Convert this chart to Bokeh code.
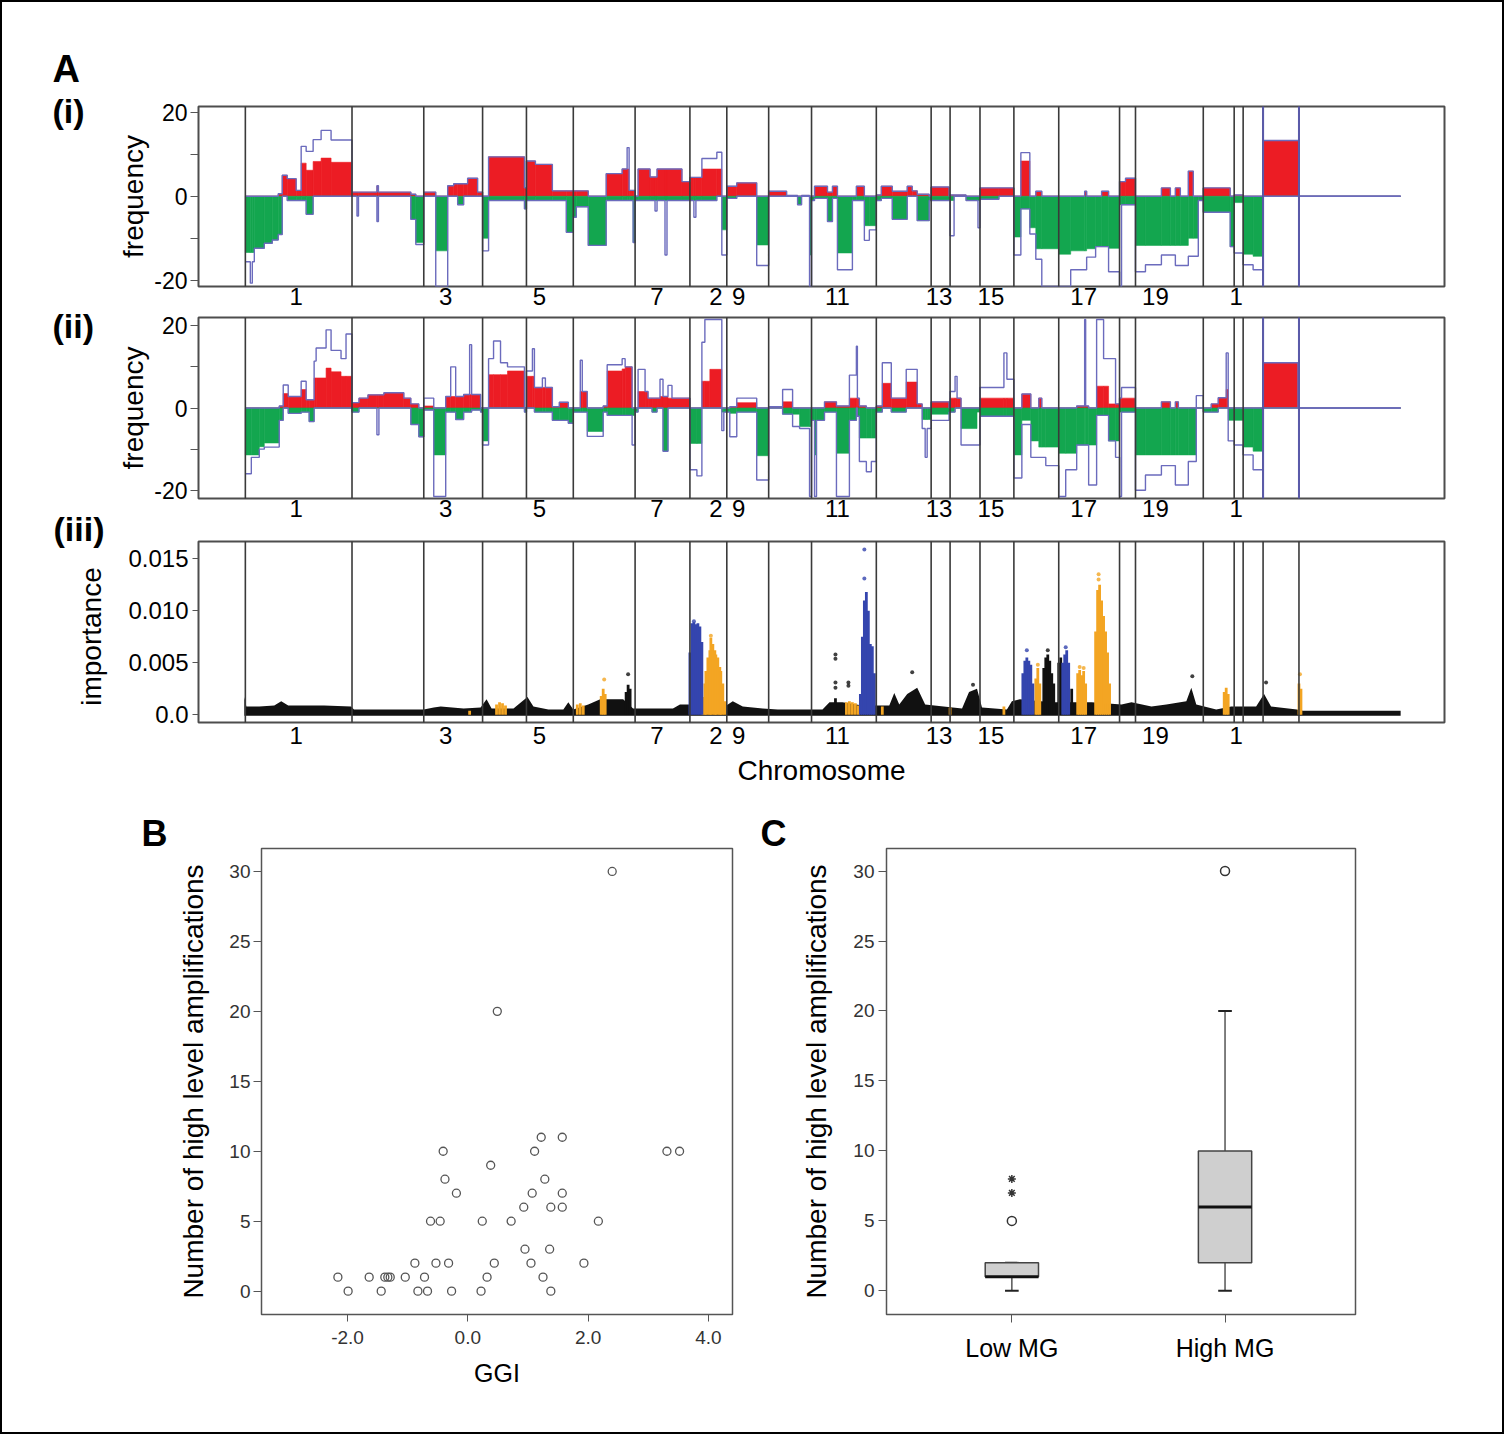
from math import pi
from bokeh.plotting import figure
from bokeh.layouts import column, row
from bokeh.models import FixedTicker, CustomJSTickFormatter, Range1d, Spacer
from bokeh.core.properties import value
from bokeh.embed import file_html
from bokeh.resources import INLINE

FONT = "Liberation Sans"

# ---------------------------------------------------------------- data
# genome position units (chromosome borders and label positions)
chrom_bounds = [47, 154, 226, 285, 329, 376, 438, 493, 530, 572, 615, 680, 735, 754,
                784, 818, 863, 924, 940, 1008, 1039, 1048, 1068, 1104]
chrom_x_bounds = [1068, 1104]
chrom_tick_pos = [98, 248, 342, 460, 519, 542, 641, 743, 795, 888, 960, 1041]
chrom_tick_lab = ["1", "3", "5", "7", "2", "9", "11", "13", "15", "17", "19", "1"]
genome_start = 47

# panel (i): segment ends, gain / loss frequency and outer envelope
i_end = [52, 54, 56, 66, 74, 80, 84, 89, 98, 103,
         108, 115, 123, 133, 154, 159, 160.5, 179, 180.5, 213,
         218, 226, 238, 250, 256, 260, 266, 270, 280, 285,
         291, 327, 329, 338, 355, 369, 376, 379, 391, 409,
         425, 430, 432, 436, 438, 441, 453, 458, 460, 468,
         470, 485, 493, 497, 499, 505, 520, 525, 530, 540,
         560, 572, 590, 601, 605, 613, 615, 618, 631, 636,
         641, 656, 660, 668, 673, 680, 685, 696, 711, 716,
         721, 733, 735, 753, 754, 758, 770, 782, 784, 803,
         818, 825, 834, 840, 846, 863, 875, 889, 891, 900,
         906, 913, 924, 926, 930, 940, 950, 966, 975, 980,
         985, 993, 998, 1003, 1008, 1035, 1039, 1048, 1058, 1068,
         1104, 1206]
i_gain = [0, 0, 0, 0, 0, 0, 0.6, 5, 4.2, 1.4,
          7.9, 6.2, 8.3, 9.1, 8.1, 1, 1, 1, 2.5, 1,
          0.5, 0, 1, 0, 2.5, 3, 3, 3, 4.3, 1,
          0, 9.4, 2, 8.4, 7.6, 1.3, 1.3, 1.3, 1.3, 0,
          5.4, 6.5, 6.5, 1.4, 1.4, 0, 6.5, 4.6, 4.6, 6.5,
          6.5, 6.5, 3.5, 4.5, 4.5, 4.5, 6.5, 6.5, 0, 2.4,
          3.2, 0, 1.2, 0.2, 0, 0.2, 0, 0, 2.4, 1,
          2.4, 0, 0, 2.4, 0, 0, 0.3, 2.4, 1.2, 2.4,
          1.3, 0.5, 0, 2.2, 0, 0.3, 0.3, 0, 0, 2,
          2, 0, 8.4, 0, 1.2, 0, 0, 0, 1.2, 0,
          0, 1.2, 0, 3.5, 3.5, 4.3, 0, 0, 2, 0,
          2, 0, 6, 0, 0, 2, 0, 0.3, 0, 0,
          13.3, 0]
i_loss = [-13.4, -13.4, -13.4, -12.4, -11.2, -10.4, -9.1, 0, -1, -1,
          -1, -4.3, 0, 0, 0, 0, 0, 0, 0, 0,
          -5.5, -11, 0, -13, 0, 0, -2, 0, 0, 0,
          -10, -1, -3, -1, -1, -1, -8.6, -5, -2.5, -11.7,
          -1, -1, -1, -1, -11, -1, -1, -1, -1, -1,
          -1, -1, -1, -1, -1, -1, -1, 0, -8, -0.5,
          0, -11.6, 0, 0, -2, 0, -14, -1, -0.5, -6,
          -0.5, -13.5, -1, -1, -7, -7, -1, -0.5, -5.5, 0,
          0, -5.8, -1, -1, -1, -1, 0, -1, -1, -0.7,
          0, -9.7, -3, -7.5, -12.5, -12.5, -13.8, -13, -13, -12.5,
          -12, -12, -12.4, -2, -2, -2, -11.7, -11.7, -11.7, -11.7,
          -11.7, -11.7, -10, -10, -1, -3.8, -12, -1.5, -13.8, -14.3,
          0, 0]
i_hi = [0, 0, 0, 0, 0, 0, 0.6, 5, 4.2, 1.4,
        11.9, 10.7, 13.5, 15.7, 13.4, 1, 1, 1, 2.5, 1,
        0.5, 0, 1, 0, 2.5, 3, 3, 3, 4.3, 1,
        0, 9.4, 2, 8.4, 7.6, 1.3, 1.3, 1.3, 1.3, 0,
        5.4, 6.5, 11.6, 1.4, 1.4, 0, 6.5, 4.6, 4.6, 6.5,
        6.5, 6.5, 3.5, 4.5, 4.5, 4.5, 9, 10.5, 0, 2.4,
        3.2, 0, 1.2, 0.2, 0, 0.2, 0, 0, 2.4, 1,
        2.4, 0, 0, 2.4, 0, 0, 0.3, 2.4, 1.2, 2.4,
        1.3, 0.5, 0, 2.2, 0, 0.3, 0.3, 0, 0, 2,
        2, 0, 10.4, 0, 1.2, 0, 0, 0, 1.2, 0,
        0, 1.2, 0, 3.5, 3.5, 4.3, 0, 0, 2, 0,
        2, 0, 6, 0, 0, 2, 0, 0.3, 0, 0,
        13.3, 0]
i_lo = [-15.6, -20.7, -15.6, -12.4, -11.2, -10.4, -9.1, 0, -1, -1,
        -1, -4.3, 0, 0, 0, 0, -4.7, 0, -6, 0,
        -5.5, -11.5, 0, -21.5, 0, 0, -2, 0, 0, 0,
        -13, -1, -3, -1, -1, -1, -8.6, -5, -2.5, -11.7,
        -1, -1, -1, -1, -11, -1, -1, -1, -3.5, -1,
        -14, -1, -1, -1, -5, -1, -1, 0, -14, -0.5,
        0, -16.5, 0, 0, -2, 0, -21.5, -1, -0.5, -6,
        -0.5, -17.5, -1, -1, -10.5, -8, -1, -0.5, -5.5, 0,
        0, -5.8, -1, -1, -1, -9.4, 0, -1, -7.5, -0.7,
        0, -14, -3, -9, -15, -21.5, -21.5, -17.5, -17.5, -14.5,
        -12, -12, -18, -21.5, -2, -2, -18, -16.3, -14, -14,
        -16.5, -16.5, -14.3, -14.3, -1, -3.8, -12, -13.5, -16.3, -17.5,
        0, 0]

# panel (ii)
ii_end = [53, 61, 66, 81, 85, 90, 103, 108, 111, 116,
          118, 128, 133, 143, 148, 154, 161, 170, 179, 181,
          186, 206, 213, 221, 226, 236, 248, 253, 258, 266,
          272, 274, 283, 285, 291, 296, 303, 310, 327, 329,
          335, 337, 345, 348, 355, 362, 371, 376, 383, 385,
          390, 406, 410, 425, 428, 435, 438, 441, 448, 451,
          455, 460, 463, 466, 471, 475, 493, 500, 505, 508,
          513, 525, 527, 530, 533, 540, 560, 572, 586, 596,
          603, 613, 615, 618, 620, 628, 640, 653, 660, 661,
          663, 670, 675, 680, 686, 695, 710, 721, 726, 729,
          731, 735, 753, 754, 759, 761, 765, 781, 784, 808,
          811, 818, 826, 835, 843, 846, 850, 863, 870, 881,
          889, 890, 893, 901, 908, 913, 920, 924, 926, 940,
          950, 966, 975, 980, 983, 993, 1001, 1008, 1016, 1023,
          1031, 1033, 1039, 1048, 1058, 1068, 1103, 1104, 1206]
ii_gain = [0, 0, 0, 0, 0.5, 3.5, 2.8, 4.5, 2, 2,
           7.3, 7.3, 9.7, 8.8, 7.7, 7.7, 1.3, 2.4, 3.2, 3.2,
           3.2, 3.7, 2.4, 1, 0, 0.5, 0, 2.8, 2.8, 2.8,
           3.3, 3.3, 3.3, 0, 0, 8.1, 8.1, 8.1, 9, 0,
           7.7, 7.7, 5, 5, 5, 0.3, 1.4, 0, 0, 4,
           4, 0, 0.5, 9, 9.5, 10, 0, 0, 4, 4,
           2.4, 2.4, 2.4, 2.8, 2.8, 2.4, 2.4, 0, 0, 6.5,
           6.5, 9.4, 0, 0, 0, 0.3, 1.3, 0, 0.3, 1.5,
           0, 0, 0, 0, 0, 0, 1.5, 0.5, 2.4, 2.4,
           2.4, 0.5, 0, 0, 0.5, 6, 2.4, 6.3, 1, 0,
           0, 0, 1.5, 0, 2.4, 2.4, 2.4, 0, 0, 2.4,
           2.4, 2.4, 0, 3.4, 0, 2.4, 0, 0, 0, 0,
           0.5, 0.5, 0.5, 0, 5.3, 5.3, 1, 1, 2.4, 2.4,
           0, 0, 1.5, 0, 1.5, 0, 0, 0, 0, 1,
           2.5, 4.5, 0, 0, 0, 0, 11, 0, 0]
ii_loss = [-11.4, -11.4, -9.4, -8.5, -3, 0, -1.3, -1, -1, -3.3,
           0, 0, 0, 0, 0, 0, -1, 0, 0, 0,
           0, 0, 0, -4, -7, -0.5, -11.4, -1, -1, -2.8,
           -1, -1, -0.5, -1, -8, 0, 0, 0, 0, -1,
           0, 0, -1, -1, -1, -3, -3, -3.7, -1, -1,
           -1, -5.7, -1, -1.8, -1.8, -1.8, -1.8, -1, 0, 0,
           0, -1, 0, 0, -10.5, 0, 0, -8.6, -8.6, 0,
           0, 0, -1, -1, -1, -1.3, -1, -11.6, 0, -1.5,
           -1.5, -4.5, -4.5, -3, -11.4, -3, -1, -11, -3, 0,
           -2, -7.3, -7.3, -7.3, -1, 0, -1, 0, 0, -2.8,
           -2.8, -2.8, -1.5, -1, -1, 0, 0, -5, -1, -2,
           -2, -2, -11.4, -3, -8, -9.5, -9.5, -9.5, -11, -11,
           -9, -9, -9, -9, -1.8, -1.8, -8, -8, -1, -1,
           -11.4, -11.4, -11.4, -11.4, -11.4, -11.4, -11.4, 0, -1, -1,
           0, 0, -3, -3, -9.5, -10.5, 0, 0, 0]
ii_hi = [0, 0, 0, 0, 0.5, 5.6, 2.8, 6.5, 2, 2,
         11.4, 14.6, 19, 14, 12, 18, 1.3, 2.4, 3.2, 3.2,
         3.2, 3.7, 2.4, 1, 0, 2.4, 0, 2.8, 10, 2.8,
         3.3, 15.4, 3.3, 0, 0, 12, 16.3, 11, 10, 0,
         9, 14.4, 5, 7.3, 5, 0.3, 1.4, 0, 0, 11.6,
         4, 0, 0.5, 10.5, 12, 10, 0, 0, 9.4, 4,
         2.4, 2.4, 2.4, 7, 2.8, 5.5, 2.4, 0, 0, 16,
         21.5, 21.5, 0, 0, 0, 0.3, 2.4, 0, 0.3, 4.5,
         0, 0, 0, 0, 0, 0, 1.5, 0.5, 8, 15,
         2.4, 0.5, 0, 0, 0.5, 11, 2.4, 9.4, 1, 0,
         0, 0, 1.5, 0, 4, 7.7, 2.4, 0, 0, 5,
         13.4, 7, 0, 3.4, 0, 2.4, 0, 0, 0, 0,
         0.5, 21.5, 0.5, 0, 21.5, 12, 12, 1, 2.4, 5,
         0, 0, 1.5, 0, 1.5, 0, 0, 3, 0, 1,
         2.5, 13.4, 0, 0, 0, 0, 11, 0, 0]
ii_lo = [-16, -12, -10, -9.5, -3, 0, -1.3, -1, -1, -3.3,
         0, 0, 0, 0, 0, 0, -1, 0, 0, -6.5,
         0, 0, 0, -4, -7, -0.5, -21.5, -1, -1, -2.8,
         -1, -1, -0.5, -1, -9, 0, 0, 0, 0, -1,
         0, 0, -1, -1, -1, -3, -3, -3.7, -1, -1,
         -1, -6.9, -1, -1.8, -1.8, -1.8, -9, -1, 0, 0,
         0, -1, 0, 0, -10.5, 0, 0, -15, -16.5, 0,
         0, 0, -5.5, -1, -1, -7, -1, -17.5, 0, -1.5,
         -4.5, -5, -21.5, -3, -21.5, -3, -1, -21.5, -3, 0,
         -2, -13, -15.5, -13, -1, 0, -1, 0, 0, -5,
         -12, -5, -3, -1, -1, 0, 0, -9, -9, -2,
         -2, -2, -17, -4, -12, -12, -12, -14, -21.5, -15,
         -9, -9, -9, -18.7, -1.8, -1.8, -8, -12, -21.5, -1,
         -20, -16.3, -14, -14, -18.7, -18.7, -13, 0, -1, -1,
         0, 0, -8, -9, -11.4, -15, 0, 0, 0]

# panel (iii): importance
band_pos = [46, 48, 61, 76, 83, 90, 126, 153, 156, 226, 236, 243, 266, 283, 289, 294, 316,
            330, 336, 351, 366, 371, 376, 391, 403, 426, 436, 476, 483, 492, 528, 536, 546,
            566, 581, 626, 633, 646, 666, 693, 698, 703, 711, 721, 729, 766, 773, 781, 786,
            811, 816, 824, 856, 896, 926, 936, 956, 971, 991, 996, 1001, 1021, 1036, 1061,
            1069, 1076, 1102, 1108, 1206]
band_top = [0.0017, 0.0008, 0.0008, 0.0009, 0.0013, 0.0009, 0.0009, 0.0008, 0.0005, 0.0005,
            0.0007, 0.0008, 0.0006, 0.0007, 0.0015, 0.0006, 0.0006, 0.0017, 0.0008, 0.0005,
            0.0005, 0.0012, 0.0005, 0.0010, 0.0015, 0.0015, 0.0006, 0.0006, 0.0010, 0.0010,
            0.0008, 0.0013, 0.0008, 0.0006, 0.0005, 0.0005, 0.0012, 0.0012, 0.0009, 0.0009,
            0.0021, 0.0010, 0.0020, 0.0026, 0.0010, 0.0006, 0.0022, 0.0025, 0.0007, 0.0005,
            0.0013, 0.0015, 0.0012, 0.0012, 0.0010, 0.0012, 0.0008, 0.0010, 0.0013, 0.0026,
            0.0010, 0.0005, 0.0008, 0.0008, 0.0020, 0.0008, 0.0005, 0.0004, 0.0004]
blue_pos = [493, 495, 497, 499, 501, 503, 505, 664, 666, 668, 670, 672, 674, 676, 678,
            827, 829, 831, 833, 835, 837, 867, 869, 871, 873]
blue_top = [0.0060, 0.0088, 0.0089, 0.0087, 0.0088, 0.0085, 0.0070,
            0.0020, 0.0075, 0.0110, 0.0118, 0.0100, 0.0068, 0.0066, 0.0040,
            0.0040, 0.0052, 0.0055, 0.0052, 0.0048, 0.0030,
            0.0050, 0.0058, 0.0062, 0.0050]
orange_pos = [272, 299, 302, 305, 308, 380, 383, 386, 404, 406, 408,
              506, 508, 509, 511, 513, 514, 516, 518, 519, 521, 523, 524, 526, 528,
              650, 653, 656, 659, 662, 686, 754, 808, 840, 842, 844,
              882, 884, 886, 888, 890, 900, 902, 904, 906, 908, 910, 912, 914,
              1029, 1031, 1033, 1104, 1106]
orange_top = [0.0004, 0.0010, 0.0012, 0.0011, 0.0009, 0.0010, 0.0011, 0.0009,
              0.0018, 0.0025, 0.0020,
              0.0017, 0.0030, 0.0042, 0.0055, 0.0062, 0.0074, 0.0068, 0.0062, 0.0058,
              0.0055, 0.0046, 0.0042, 0.0030, 0.0013,
              0.0012, 0.0013, 0.0012, 0.0011, 0.0009, 0.0008, 0.0007, 0.0008,
              0.0035, 0.0045, 0.0030,
              0.0040, 0.0043, 0.0038, 0.0042, 0.0030,
              0.0080, 0.0120, 0.0125, 0.0110, 0.0095, 0.0080, 0.0060, 0.0030,
              0.0022, 0.0026, 0.0020, 0.0030, 0.0025]
black_pos = [429, 431, 433, 639, 848, 850, 852, 854, 856, 858, 863, 865, 876]
black_top = [0.0022, 0.0029, 0.0025, 0.0016, 0.0045, 0.0055, 0.0058, 0.0052, 0.0040,
             0.0030, 0.0050, 0.0055, 0.0025]
dot_pos = [407, 431, 639, 639, 639, 639, 652, 652, 668, 668, 716, 831, 842, 852, 870,
           884, 888, 903, 903, 997, 1071, 1105, 777, 497, 514]
dot_val = [0.0034, 0.0039, 0.0058, 0.0054, 0.0031, 0.0026, 0.0031, 0.0028, 0.0159, 0.0131,
           0.0041, 0.0062, 0.0048, 0.0062, 0.0065, 0.0046, 0.0045, 0.0135, 0.0130, 0.0037,
           0.0031, 0.0039, 0.0029, 0.0090, 0.0076]
dot_grp = ["orange", "black", "black", "black", "black", "black", "black", "black", "blue",
           "blue", "black", "blue", "orange", "black", "blue", "orange", "orange", "orange",
           "orange", "black", "black", "orange", "black", "blue", "orange"]

# panel B
ggi = [-2.16, -1.99, -1.64, -1.44, -1.38, -1.33, -1.29, -1.04, -0.88, -0.83,
       -0.72, -0.67, -0.62, -0.53, -0.46, -0.41, -0.38, -0.32, -0.27, -0.19,
       0.22, 0.24, 0.32, 0.38, 0.44, 0.49, 0.72, 0.93, 0.95, 1.05,
       1.07, 1.11, 1.22, 1.25, 1.28, 1.36, 1.38, 1.38, 1.57, 1.57,
       1.57, 1.93, 2.17, 2.40, 3.31, 3.52]
amplif = [1, 0, 1, 0, 1, 1, 1, 1, 2, 0,
          1, 0, 5, 2, 5, 10, 8, 2, 0, 7,
          0, 5, 1, 9, 2, 20, 5, 6, 3, 2,
          7, 10, 11, 1, 8, 3, 6, 0, 11, 7,
          6, 2, 5, 30, 10, 10]

# panel C
c_groups = ["Low MG", "High MG"]
c_pos = [1, 2]
c_q1 = [1, 2]
c_med = [1, 6]
c_q3 = [2, 10]
c_wlo = [0, 0]
c_whi = [2, 20]
c_out_pos = [1, 2]
c_out_val = [5, 30]
c_ext_pos = [1, 1]
c_ext_val = [7, 8]

# ---------------------------------------------------------------- style
RED = "#ec1c24"
GREEN = "#13a64f"
ENV = "#6b6bbd"
BOUND = "#3a3a3a"
XBLUE = "#5a5aaa"
ORANGE = "#f3a523"
BLUE = "#3445ae"
COLORS = {"orange": ORANGE, "blue": BLUE, "black": "#111111"}


def base_fig(width, height, xr, yr, bl, br, bt, bb, outline="#4d4d4d", ow=2):
    p = figure(width=width, height=height, x_range=Range1d(*xr), y_range=Range1d(*yr),
               output_backend="svg", toolbar_location=None, tools="", title=None,
               min_border_left=bl, min_border_right=br, min_border_top=bt, min_border_bottom=bb,
               background_fill_color="white", border_fill_color=None)
    p.grid.visible = False
    p.outline_line_color = outline
    p.outline_line_width = ow
    return p


def strip_fig(width, height, x0, y0):
    # blank canvas whose data units equal pixels (for panel tags)
    p = figure(width=width, height=height, x_range=Range1d(x0, x0 + width),
               y_range=Range1d(y0 + height, y0), output_backend="svg",
               toolbar_location=None, tools="", title=None,
               x_axis_location=None, y_axis_location=None, min_border=0,
               background_fill_color=None, border_fill_color=None)
    p.grid.visible = False
    p.outline_line_color = None
    return p


def tag(p, text, x, y_base, size_px, bold=True):
    # y_base: wanted baseline; text is anchored on its middle
    p.text(x=[x], y=[y_base - 0.355 * size_px], text=[text], text_font=value(FONT),
           text_font_size=f"{size_px}px", text_font_style="bold" if bold else "normal",
           text_align="left", text_baseline="middle", text_color="black")


def style_axis(ax, size, color="black", tick_color="#555555"):
    ax.major_label_text_font = FONT
    ax.major_label_text_font_size = size
    ax.major_label_text_color = color
    ax.axis_label_text_font = FONT
    ax.axis_label_text_font_style = "normal"
    ax.axis_label_text_color = "black"
    ax.axis_line_color = None
    ax.major_tick_line_color = tick_color
    ax.minor_tick_line_color = tick_color
    ax.major_tick_in = 0
    ax.minor_tick_in = 0


def chrom_xaxis(p, standoff):
    ax = p.xaxis[0]
    ax.ticker = FixedTicker(ticks=chrom_tick_pos)
    ax.major_label_overrides = dict(zip(chrom_tick_pos, chrom_tick_lab))
    style_axis(ax, "24px")
    ax.major_tick_out = 0
    ax.major_label_standoff = standoff


def freq_fig(ends, gain, loss, hi, lo, height, yr, bt, bb):
    p = base_fig(1389, height, (0, 1250), yr, 82, 57, bt, bb)
    left = [genome_start] + ends[:-1]
    p.quad(left=left, right=ends, bottom=0, top=gain, fill_color=RED,
           line_color=RED, line_width=0.6)
    p.quad(left=left, right=ends, bottom=loss, top=0, fill_color=GREEN,
           line_color=GREEN, line_width=0.6)
    xs = left + [ends[-1]]
    p.step(xs, hi + [hi[-1]], mode="after", line_color=ENV, line_width=1.4)
    p.step(xs, lo + [lo[-1]], mode="after", line_color=ENV, line_width=1.4)
    p.segment(x0=chrom_bounds, y0=yr[0] - 1, x1=chrom_bounds, y1=yr[1] + 1,
              line_color=BOUND, line_width=1.6)
    p.segment(x0=chrom_x_bounds, y0=yr[0] - 1, x1=chrom_x_bounds, y1=yr[1] + 1,
              line_color=XBLUE, line_width=2)
    ay = p.yaxis[0]
    ay.ticker = FixedTicker(ticks=[-20, 0, 20], minor_ticks=[-10, 10])
    ay.formatter = CustomJSTickFormatter(code="return tick.toFixed(0);")
    style_axis(ay, "23px")
    ay.major_tick_out = 8
    ay.minor_tick_out = 8
    ay.major_label_standoff = 3
    ay.axis_label = "frequency"
    ay.axis_label_text_font_size = "28px"
    ay.axis_label_standoff = 2
    chrom_xaxis(p, 1)
    return p


# ---------------------------------------------------------------- panel A
p1 = freq_fig(i_end, i_gain, i_loss, i_hi, i_lo, 314, (-21.5, 21.4), 106, 28)
p2 = freq_fig(ii_end, ii_gain, ii_loss, ii_hi, ii_lo, 219, (-22.0, 22.0), 3, 35)

p3 = base_fig(1389, 267, (0, 1250), (-0.00074, 0.01666), 79, 60, 8, 78)
p3.varea(x=band_pos, y1=-0.0001, y2=band_top, fill_color="#111111")
p3.vbar(x=black_pos, width=2.8, top=black_top, bottom=0, fill_color="#111111", line_color=None)
p3.vbar(x=orange_pos, width=2.8, top=orange_top, bottom=0, fill_color=ORANGE, line_color=None)
p3.vbar(x=blue_pos, width=2.8, top=blue_top, bottom=0, fill_color=BLUE, line_color=None)
p3.scatter(dot_pos, dot_val, marker="circle", size=4,
           fill_color=[COLORS[g] for g in dot_grp], line_color=None, fill_alpha=0.8)
p3.segment(x0=chrom_bounds, y0=-0.001, x1=chrom_bounds, y1=0.02, line_color=BOUND, line_width=1.6)
ay3 = p3.yaxis[0]
ay3.ticker = FixedTicker(ticks=[0, 0.005, 0.01, 0.015])
ay3.formatter = CustomJSTickFormatter(code="return tick == 0 ? '0.0' : tick.toFixed(3);")
style_axis(ay3, "24px")
ay3.major_tick_out = 6
ay3.major_label_standoff = 4
chrom_xaxis(p3, 4)
p3.xaxis[0].axis_label = "Chromosome"
p3.xaxis[0].axis_label_text_font_size = "28px"
p3.xaxis[0].axis_label_standoff = 8

stripA = strip_fig(115, 800, 0, 0)
tag(stripA, "A", 52, 82, 38)
tag(stripA, "(i)", 52, 123, 34)
tag(stripA, "(ii)", 52, 338, 34)
tag(stripA, "(iii)", 53, 541, 34)
stripA.text(x=[91], y=[636], text=["importance"], angle=pi / 2, text_font=value(FONT),
            text_font_size="28px", text_align="center", text_baseline="middle",
            text_color="black")

# ---------------------------------------------------------------- panel B / C tags
stripB = strip_fig(175, 80, 0, 800)
tag(stripB, "B", 141, 846, 36)
stripC = strip_fig(55, 80, 740, 800)
tag(stripC, "C", 760, 846, 36)
colB = column(stripB, Spacer(width=175, height=554))
colC = column(stripC, Spacer(width=55, height=554))

# ---------------------------------------------------------------- panel B
pB = base_fig(565, 634, (-3.43, 4.40), (-1.67, 31.64), 85, 8, 48, 120, "#555555", 1.5)
pB.scatter(ggi, amplif, marker="circle", size=8, fill_color=None,
           line_color="#555555", line_width=1.3)
axB = pB.xaxis[0]
axB.ticker = FixedTicker(ticks=[-2, 0, 2, 4])
axB.formatter = CustomJSTickFormatter(code="return tick.toFixed(1);")
style_axis(axB, "19px", "#333333")
axB.major_tick_out = 7
axB.major_label_standoff = 9
axB.axis_label = "GGI"
axB.axis_label_text_font_size = "25px"
axB.axis_label_standoff = 12
ayB = pB.yaxis[0]
ayB.ticker = FixedTicker(ticks=[0, 5, 10, 15, 20, 25, 30])
style_axis(ayB, "19px", "#333333")
ayB.major_tick_out = 8
ayB.major_label_standoff = 3
ayB.axis_label = "Number of high level amplifications"
ayB.axis_label_text_font_size = "28px"
ayB.axis_label_standoff = 17

# ---------------------------------------------------------------- panel C
pC = base_fig(709, 634, (0.412, 2.612), (-1.69, 31.61), 91, 149, 46, 110, "#555555", 1.5)
half = 0.125
cap = 0.032
pC.segment(x0=c_pos, y0=c_q3, x1=c_pos, y1=c_whi, line_color="#555555", line_width=1.5)
pC.segment(x0=c_pos, y0=c_q1, x1=c_pos, y1=c_wlo, line_color="#555555", line_width=1.5)
pC.segment(x0=[p - cap for p in c_pos], y0=c_whi, x1=[p + cap for p in c_pos], y1=c_whi,
           line_color="#222222", line_width=2)
pC.segment(x0=[p - cap for p in c_pos], y0=c_wlo, x1=[p + cap for p in c_pos], y1=c_wlo,
           line_color="#222222", line_width=2)
pC.quad(left=[p - half for p in c_pos], right=[p + half for p in c_pos], bottom=c_q1, top=c_q3,
        fill_color="#cfcfcf", line_color="#444444", line_width=1.5)
pC.segment(x0=[p - half for p in c_pos], y0=c_med, x1=[p + half for p in c_pos], y1=c_med,
           line_color="#111111", line_width=3)
pC.scatter(c_out_pos, c_out_val, marker="circle", size=9, fill_color=None,
           line_color="#333333", line_width=1.5)
pC.scatter(c_ext_pos, c_ext_val, marker="asterisk", size=8, line_color="#333333", line_width=1.5)
axC = pC.xaxis[0]
axC.ticker = FixedTicker(ticks=c_pos)
axC.major_label_overrides = dict(zip(c_pos, c_groups))
style_axis(axC, "25px", "black")
axC.major_tick_out = 8
axC.major_label_standoff = 11
ayC = pC.yaxis[0]
ayC.ticker = FixedTicker(ticks=[0, 5, 10, 15, 20, 25, 30])
style_axis(ayC, "19px", "#333333")
ayC.major_tick_out = 8
ayC.major_label_standoff = 4
ayC.axis_label = "Number of high level amplifications"
ayC.axis_label_text_font_size = "28px"
ayC.axis_label_standoff = 18

layout = column(row(stripA, column(p1, p2, p3)), row(colB, pB, colC, pC),
                styles={"outline": "2px solid black", "outline-offset": "-2px"})

open("out.html", "w").write(file_html(layout, INLINE))
